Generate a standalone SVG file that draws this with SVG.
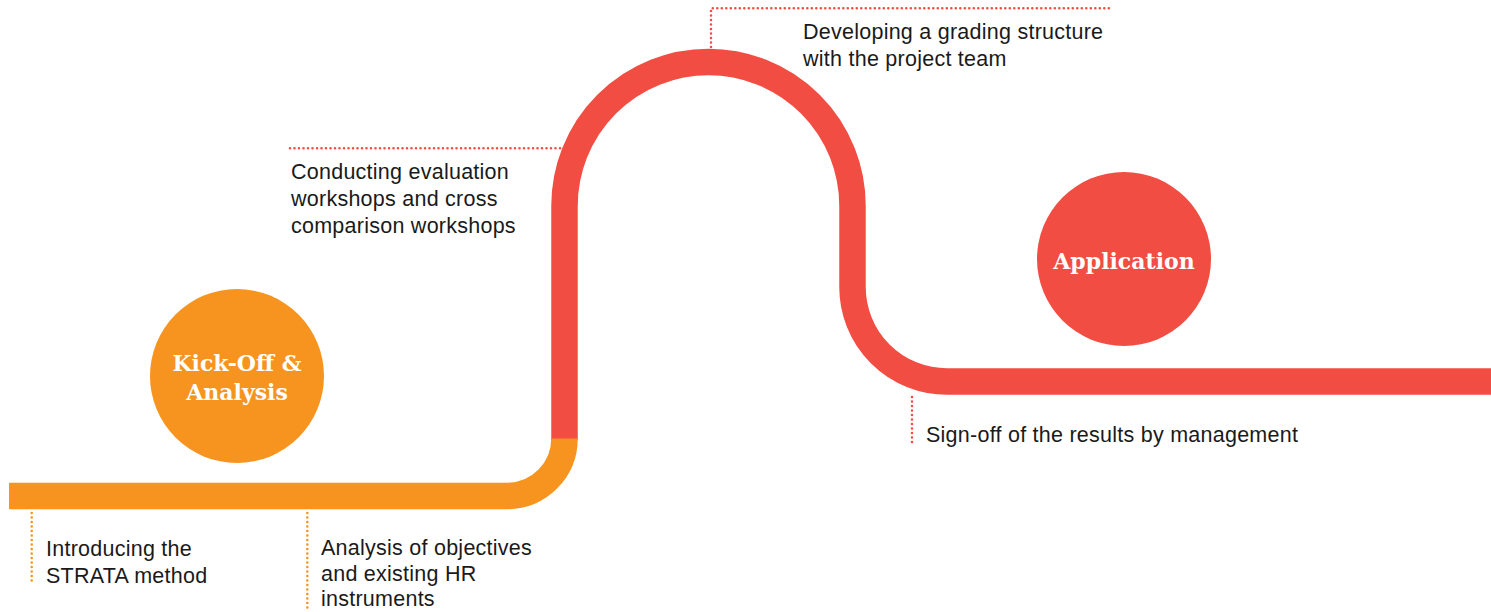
<svg xmlns="http://www.w3.org/2000/svg" width="1491" height="612" viewBox="0 0 1491 612">
  <style>
    .track { fill: none; stroke-width: 26.5; stroke-linecap: butt; }
    .orange { stroke: #F7941F; }
    .red { stroke: #F14D42; }
    .dots { fill: none; stroke-width: 2.6; stroke-linecap: round; stroke-dasharray: 0 4.5; }
    .label { font-family: "Liberation Sans", Arial, Helvetica, sans-serif; font-size: 21.5px; letter-spacing: 0.25px; fill: #1a1a1a; }
    .phase { font-family: "DejaVu Serif", "Liberation Serif", serif; font-weight: bold; font-size: 22px; fill: #ffffff; text-anchor: middle; }
  </style>

  <!-- the road: orange start, red climb over the hill and out to the right -->
  <g id="connectors">
    <path class="track red" d="M 564.5 440 L 564.5 206 A 144 144 0 0 1 852.5 206 L 852.5 287 A 94.5 94.5 0 0 0 947 381.5 L 1491 381.5"/>
    <path class="track orange" d="M 9 496 L 507 496 A 57.5 57.5 0 0 0 564.5 438.5"/>
  </g>

  <!-- phase markers -->
  <g id="kickoff">
    <circle cx="237" cy="376" r="87" fill="#F7941F"/>
    <text class="phase" x="237" y="371">Kick-Off &amp;</text>
    <text class="phase" x="237" y="400">Analysis</text>
  </g>
  <g id="application">
    <circle cx="1124" cy="259" r="87" fill="#F14D42"/>
    <text class="phase" x="1124" y="269">Application</text>
  </g>

  <!-- milestone annotations -->
  <g id="step-introducing">
    <path class="dots orange" d="M 31.7 513 L 31.7 584"/>
    <text class="label" x="46" y="556">Introducing the</text>
    <text class="label" x="46" y="583">STRATA method</text>
  </g>
  <g id="step-analysis">
    <path class="dots orange" d="M 307.3 513 L 307.3 612"/>
    <text class="label" x="321" y="555">Analysis of objectives</text>
    <text class="label" x="321" y="581">and existing HR</text>
    <text class="label" x="321" y="606">instruments</text>
  </g>
  <g id="step-workshops">
    <path class="dots red" d="M 290 148.3 L 561 148.3"/>
    <text class="label" x="291" y="179">Conducting evaluation</text>
    <text class="label" x="291" y="206">workshops and cross</text>
    <text class="label" x="291" y="233">comparison workshops</text>
  </g>
  <g id="step-grading">
    <path class="dots red" d="M 711 47 L 711 8.3 L 1110 8.3"/>
    <text class="label" x="803" y="39">Developing a grading structure</text>
    <text class="label" x="803" y="66">with the project team</text>
  </g>
  <g id="step-signoff">
    <path class="dots red" d="M 912 397 L 912 443"/>
    <text class="label" x="926" y="442">Sign-off of the results by management</text>
  </g>
</svg>
